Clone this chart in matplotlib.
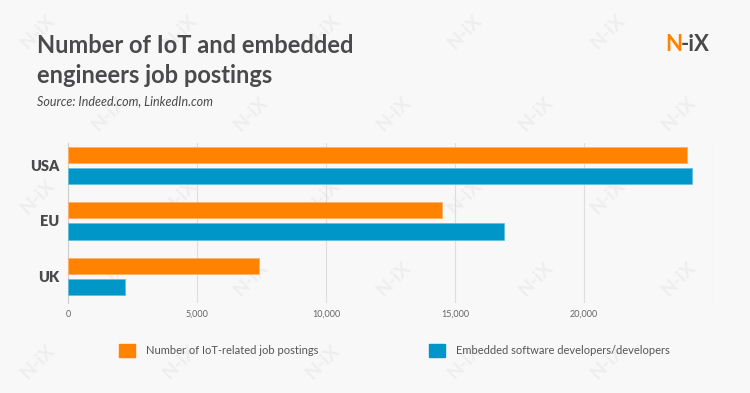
import numpy as np
import matplotlib.pyplot as plt
import matplotlib.patches as mpatches

plt.rcParams['font.family'] = ['Lato', 'DejaVu Sans']

# --- data ---
regions = ['USA', 'EU', 'UK']
iot_postings = [24000, 14500, 7400]
embedded_devs = [24200, 16900, 2200]
series_names = ['Number of IoT-related job postings',
                'Embedded software developers/developers']
tick_values = [0, 5000, 10000, 15000, 20000, 25000]
tick_labels = ['0', '5,000', '10,000', '15,000', '20,000', '']

ORANGE = '#FF8300'
BLUE = '#0096C7'
DARK = '#4A4A4D'
GRID = '#DEDEDE'
BG = '#F8F8F8'

fig = plt.figure(figsize=(7.5, 3.93), dpi=100)
fig.patch.set_facecolor(BG)

# faint watermark pattern behind everything, kept inside the canvas
for row, y in enumerate([0.92, 0.71, 0.50, 0.29, 0.08]):
    shift = 0.0 if row % 2 == 0 else 0.095
    for x in np.arange(0.05 + shift, 0.96, 0.19):
        fig.text(x, y, 'N-iX', rotation=45, fontsize=14, fontweight='bold',
                 color='#EEEEEE', ha='center', va='center', zorder=-5)

ax = fig.add_axes([0.0907, 0.229, 0.86, 0.407], zorder=2)
ax.set_facecolor('none')

y = np.arange(len(regions))
h = 0.29
off = 0.19
ax.barh(y - off, iot_postings, height=h, color=ORANGE,
        edgecolor='#FFB066', linewidth=0.6, zorder=3)
ax.barh(y + off, embedded_devs, height=h, color=BLUE,
        edgecolor='#66C0DE', linewidth=0.6, zorder=3)

ax.set_xlim(0, 25000)
ax.set_ylim(2.48, -0.405)
ax.set_xticks(tick_values)
ax.set_xticklabels(tick_labels, fontsize=6.5, color='#666666')
ax.set_yticks(y)
ax.set_yticklabels(regions, fontsize=10.5, fontweight='heavy', color=DARK)
ax.tick_params(axis='both', length=0)
ax.tick_params(axis='x', pad=5)
ax.tick_params(axis='y', pad=6)
ax.grid(axis='x', color=GRID, linewidth=0.8, zorder=0)
for side in ['top', 'right', 'bottom']:
    ax.spines[side].set_visible(False)
ax.spines['left'].set_color('#CFCFCF')
ax.spines['left'].set_linewidth(0.8)

# titles
fig.text(0.049, 0.885, 'Number of IoT and embedded', fontsize=17,
         fontweight='bold', color=DARK, va='center')
fig.text(0.049, 0.808, 'engineers job postings', fontsize=17,
         fontweight='bold', color=DARK, va='center')
fig.text(0.049, 0.742, 'Source: Indeed.com, LinkedIn.com', fontsize=9,
         style='italic', color=DARK, va='center')

# logo
fig.text(0.887, 0.888, 'N', fontsize=16, fontweight='bold', color=ORANGE,
         va='center')
fig.text(0.908, 0.888, '-iX', fontsize=16, fontweight='bold', color=DARK,
         va='center')

handles = [mpatches.Patch(color=ORANGE, label=series_names[0]),
           mpatches.Patch(color=BLUE, label=series_names[1])]
fig.legend(handles=handles, loc='center left', bbox_to_anchor=(0.159, 0.109),
           ncol=2, frameon=False, fontsize=8, labelcolor='#555555',
           handlelength=1.4, handleheight=1.4, handletextpad=1.0,
           columnspacing=10, borderpad=0, borderaxespad=0)

fig.savefig('out.png', dpi=100, facecolor=BG)
